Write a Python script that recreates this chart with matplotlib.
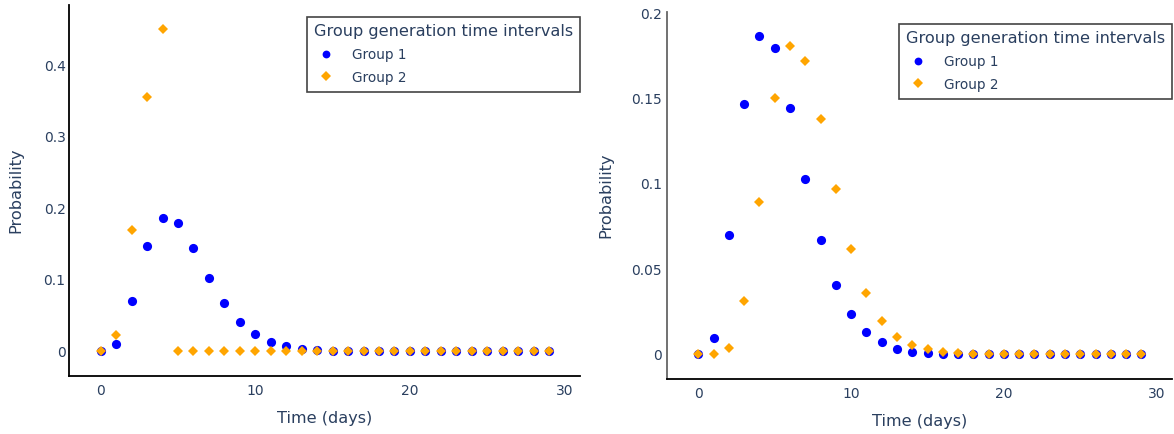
import numpy as np
import matplotlib
matplotlib.use("Agg")
import matplotlib.pyplot as plt
from matplotlib.ticker import FuncFormatter

plt.rcParams['font.family'] = ['DejaVu Sans']
txt_color = "#2a3f5f"

days = np.arange(30)

# group 1 generation interval (same in both panels)
group1 = [0, 0.0095, 0.0697, 0.147, 0.1867, 0.1795, 0.1446, 0.103, 0.0672, 0.0409,
          0.0235, 0.0131, 0.007, 0.0033, 0.0015, 0.0007, 0.0003] + [0] * 13

# group 2, left panel
group2_left = [0, 0.0229, 0.169, 0.356, 0.452] + [0] * 25

# group 2, right panel
group2_right = [0, 0, 0.0039, 0.031, 0.0893, 0.1505, 0.1808, 0.172, 0.138, 0.0971,
                0.0618, 0.036, 0.0197, 0.0103, 0.0055, 0.0029, 0.0013, 0.0005] + [0] * 12

left_yticks = [0, 0.1, 0.2, 0.3, 0.4]
right_yticks = [0, 0.05, 0.1, 0.15, 0.2]
xticks = [0, 10, 20, 30]

W, H = 1174, 434
fig = plt.figure(figsize=(W / 100, H / 100), dpi=100)

def px_axes(x0, x1, y0, y1):
    # pixel box -> figure coords
    return fig.add_axes([x0 / W, 1 - y1 / H, (x1 - x0) / W, (y1 - y0) / H])

ax1 = px_axes(69, 580, 5, 376)
ax2 = px_axes(667, 1172, 11.7, 379)

fmt = FuncFormatter(lambda v, p: "{:g}".format(round(v, 4)))

def setup(ax, g2, ylim, yticks, yspine_col, leg_right, leg_top, ylab_x, ypad):
    ax.plot(days, group1, 'o', color='blue', markersize=6.6, markeredgewidth=0, label='Group 1')
    ax.plot(days, g2, 'D', color='orange', markersize=5.5, markeredgewidth=0, label='Group 2')
    ax.set_xlim(-2.05, 31.0)
    ax.set_ylim(*ylim)
    ax.set_xticks(xticks)
    ax.set_yticks(yticks)
    ax.yaxis.set_major_formatter(fmt)
    ax.tick_params(length=0, labelsize=10, labelcolor=txt_color)
    ax.tick_params(axis='x', pad=5.5)
    ax.tick_params(axis='y', pad=ypad)
    for s in ['top', 'right']:
        ax.spines[s].set_visible(False)
    ax.spines['bottom'].set_color('black')
    ax.spines['left'].set_color(yspine_col)
    ax.spines['bottom'].set_linewidth(1.3)
    ax.spines['left'].set_linewidth(1.3)
    ax.set_xlabel("Time (days)", fontsize=11.6, color=txt_color)
    ax.set_ylabel("Probability", fontsize=11.6, color=txt_color)
    ax.xaxis.set_label_coords(0.5, -0.095)
    ax.yaxis.set_label_coords(ylab_x, 0.5)
    leg = ax.legend(loc='upper right', bbox_to_anchor=(leg_right / W, 1 - leg_top / H),
                    bbox_transform=fig.transFigure, borderaxespad=0,
                    title="Group generation time intervals", title_fontsize=11.6,
                    fontsize=9.8, fancybox=False, framealpha=1, alignment='left',
                    borderpad=0.5, labelspacing=0.65, handleheight=1.0,
                    handletextpad=1.0, handlelength=1.8, markerscale=0.85)
    leg.get_frame().set_edgecolor('#444444')
    leg.get_frame().set_linewidth(1.2)
    leg.get_title().set_color(txt_color)
    for t in leg.get_texts():
        t.set_color(txt_color)

setup(ax1, group2_left, (-0.035, 0.485), left_yticks, 'black', 580, 17.3, -0.09, 2.5)
setup(ax2, group2_right, (-0.0145, 0.201), right_yticks, '#666666', 1172, 24.3, -0.107, 3.5)

fig.savefig("out.png", dpi=100)
